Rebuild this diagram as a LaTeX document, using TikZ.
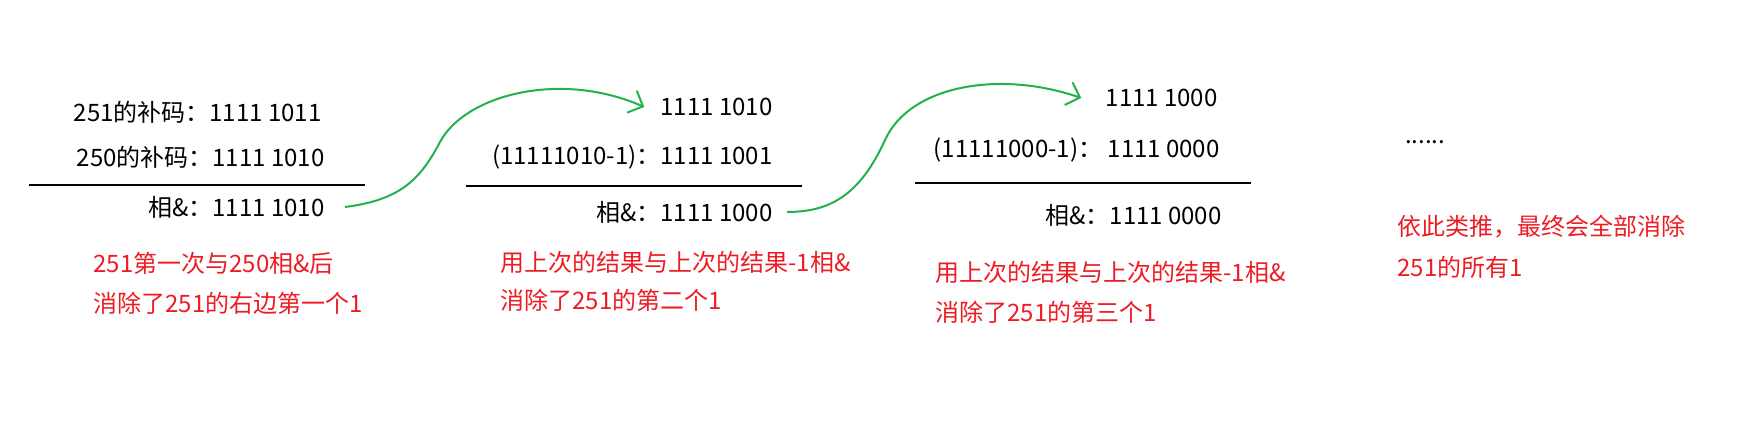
\documentclass[tikz,border=0pt]{standalone}
\usepackage{fontspec}
\setmainfont{Noto Sans CJK SC}
\usepackage{xcolor}
\usetikzlibrary{arrows.meta}

\definecolor{paintred}{RGB}{237,28,36}
\definecolor{paintgreen}{RGB}{34,177,76}

\begin{document}
\begin{tikzpicture}[
    x=0.5pt, y=-0.5pt,
    numrow/.style={anchor=east, inner sep=0pt, font=\fontsize{12}{14}\selectfont},
    noterow/.style={anchor=west, inner sep=0pt, text=paintred, font=\fontsize{12}{14}\selectfont},
    sumline/.style={line width=1.4pt},
    handarrow/.style={-{Straight Barb[length=6pt, width=12pt]}, draw=paintgreen, line width=1pt}
]
\useasboundingbox (0,0) rectangle (1754,428);

% First step: 251 & 250
\node[numrow] (comp1) at (322,112) {251的补码：1111 1011};
\node[numrow] (comp2) at (325,157) {250的补码：1111 1010};
\node[numrow] (res1) at (325,207) {相\&：1111 1010};
\draw[sumline] (29,185) -- (365,185);
\node[noterow] (note1a) at (93,263) {251第一次与250相\&后};
\node[noterow] (note1b) at (93,303) {消除了251的右边第一个1};

% Second step
\node[numrow] (top2) at (773,107) {1111 1010};
\node[numrow] (minus2) at (773,157) {(11111010-1)：1111 1001};
\node[numrow] (res2) at (773,212) {相\&：1111 1000};
\draw[sumline] (466,186) -- (802,186);
\node[noterow] (note2a) at (500,262) {用上次的结果与上次的结果-1相\&};
\node[noterow] (note2b) at (500,300) {消除了251的第二个1};

% Third step
\node[numrow] (top3) at (1218,98) {1111 1000};
\node[numrow] (minus3) at (1220,150) {(11111000-1)：\ 1111 0000};
\node[numrow] (res3) at (1222,215) {相\&：1111 0000};
\draw[sumline] (915,183) -- (1251,183);
\node[noterow] (note3a) at (935,272) {用上次的结果与上次的结果-1相\&};
\node[noterow] (note3b) at (935,312) {消除了251的第三个1};

% And so on
\node[numrow, anchor=center] (dots) at (1425,142) {......};
\node[noterow] (note4a) at (1397,227) {依此类推，最终会全部消除};
\node[noterow] (note4b) at (1397,267) {251的所有1};

% Carry each result over to the next step
\draw[handarrow] ([xshift=10pt]res1.east) .. controls (400,200) and (420,180) .. (440,142)
    .. controls (465,95) and (560,70) .. ([xshift=-8pt]top2.west);
\draw[handarrow] ([xshift=7pt]res2.east) .. controls (830,212) and (860,195) .. (885,140)
    .. controls (910,85) and (1000,70) .. ([xshift=-12pt]top3.west);

\end{tikzpicture}
\end{document}
